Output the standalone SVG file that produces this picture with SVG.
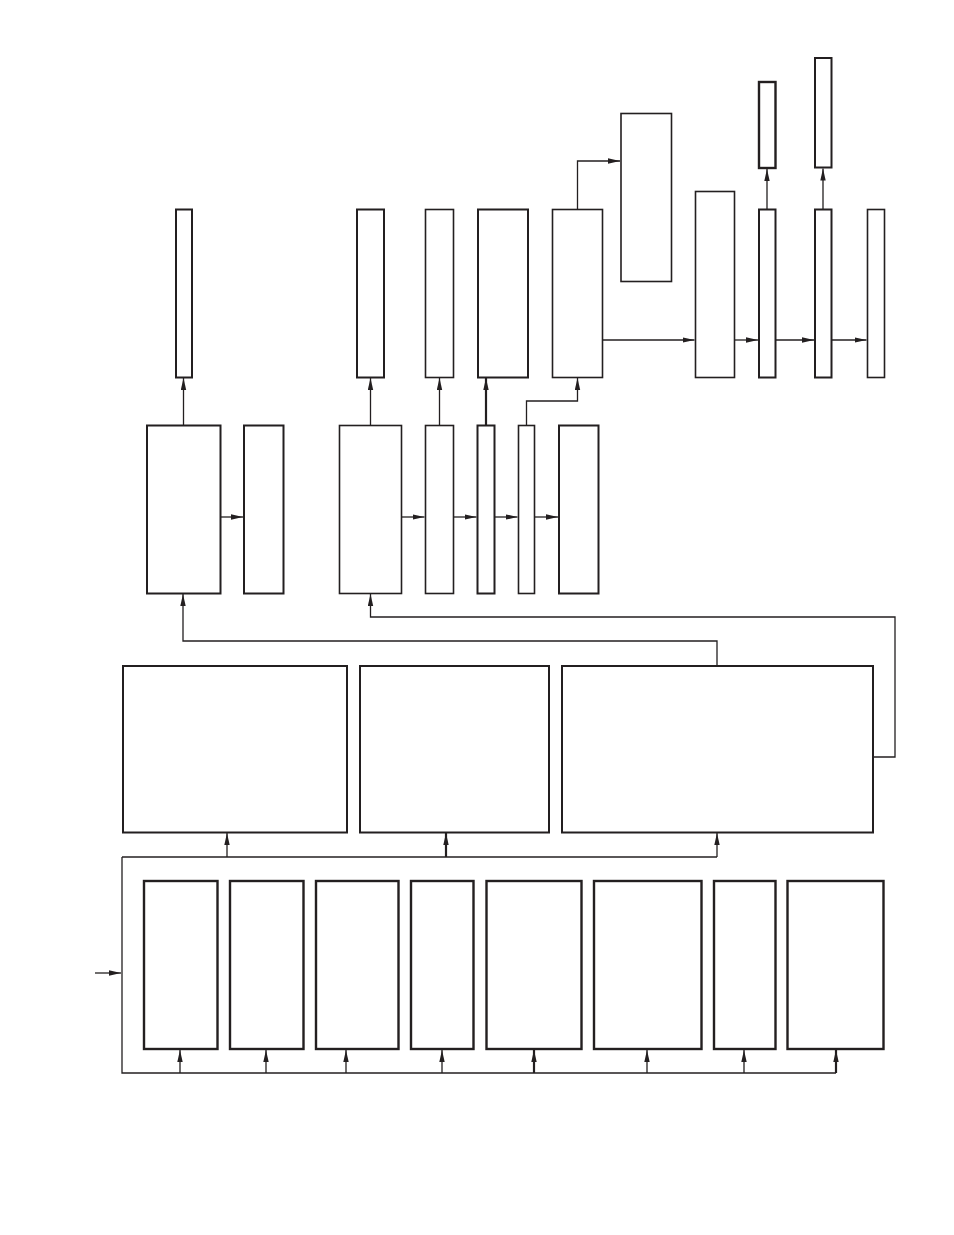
<svg xmlns="http://www.w3.org/2000/svg" width="954" height="1235" viewBox="0 0 954 1235">
<style>
.b{fill:#fff;stroke:#231f20;stroke-width:2}
.bt{fill:#fff;stroke:#231f20;stroke-width:1.6}
.bk{fill:#fff;stroke:#231f20;stroke-width:2.4}
.c{fill:none;stroke:#231f20;stroke-width:1.3}
.ca{fill:none;stroke:#231f20;stroke-width:1.3;marker-end:url(#ah)}
.cat{fill:none;stroke:#231f20;stroke-width:2.2;marker-end:url(#ah)}
</style>
<defs>
<marker id="ah" markerUnits="userSpaceOnUse" markerWidth="13" markerHeight="6" refX="12" refY="3" orient="auto">
<path d="M0,0.3 L12,3 L0,5.7 z" fill="#231f20"/>
</marker>
</defs>
<rect width="954" height="1235" fill="#fff"/>
<g id="connectors">
<path class="ca" d="M95,973 H121"/>
<path class="c" d="M122,857 V1073 H836"/>
<path class="c" d="M122,857 H717"/>
<path class="ca" d="M180,1073 V1050"/>
<path class="ca" d="M266,1073 V1050"/>
<path class="ca" d="M346,1073 V1050"/>
<path class="ca" d="M442,1073 V1050"/>
<path class="cat" d="M534,1073 V1050"/>
<path class="ca" d="M647,1073 V1050"/>
<path class="ca" d="M744,1073 V1050"/>
<path class="cat" d="M836,1073 V1050"/>
<path class="ca" d="M227,857 V833"/>
<path class="cat" d="M446,857 V833"/>
<path class="ca" d="M717,857 V833"/>
<path class="ca" d="M717,666 V641 H183 V594"/>
<path class="ca" d="M873,757 H895 V617 H370.5 V594"/>
<path class="ca" d="M220,517 H243"/>
<path class="ca" d="M402,517 H424.5"/>
<path class="ca" d="M454,517 H476.5"/>
<path class="ca" d="M494.5,517 H517.5"/>
<path class="ca" d="M535,517 H558"/>
<path class="ca" d="M183.5,425 V378"/>
<path class="ca" d="M370.5,425 V378"/>
<path class="ca" d="M439.5,425 V378"/>
<path class="cat" d="M486,425 V378"/>
<path class="ca" d="M526.5,425 V401 H577.5 V378"/>
<path class="ca" d="M577.5,209 V161 H620"/>
<path class="ca" d="M602,340 H694.5"/>
<path class="ca" d="M734,340 H758"/>
<path class="ca" d="M775,340 H814"/>
<path class="ca" d="M831,340 H866.5"/>
<path class="ca" d="M767,209 V169"/>
<path class="ca" d="M823,209 V168.5"/>
</g>
<g id="n1"><rect class="bk" x="144" y="881" width="73.5" height="168"/></g>
<g id="n2"><rect class="bk" x="230" y="881" width="73.5" height="168"/></g>
<g id="n3"><rect class="bk" x="316" y="881" width="82.5" height="168"/></g>
<g id="n4"><rect class="bk" x="411" y="881" width="62.5" height="168"/></g>
<g id="n5"><rect class="bk" x="486.5" y="881" width="95" height="168"/></g>
<g id="n6"><rect class="bk" x="594" y="881" width="107.5" height="168"/></g>
<g id="n7"><rect class="bk" x="714" y="881" width="61.5" height="168"/></g>
<g id="n8"><rect class="bk" x="787.5" y="881" width="96" height="168"/></g>
<g id="m1"><rect class="b" x="123" y="666" width="224" height="166.5"/></g>
<g id="m2"><rect class="b" x="360" y="666" width="189" height="166.5"/></g>
<g id="m3"><rect class="b" x="562" y="666" width="311" height="166.5"/></g>
<g id="d"><rect class="b" x="147" y="425.5" width="73.5" height="168"/></g>
<g id="e"><rect class="b" x="244" y="425.5" width="39.5" height="168"/></g>
<g id="f"><rect class="bt" x="339.5" y="425.5" width="62" height="168"/></g>
<g id="g"><rect class="bt" x="425.5" y="425.5" width="28" height="168"/></g>
<g id="h"><rect class="b" x="477.5" y="425.5" width="17" height="168"/></g>
<g id="i"><rect class="bt" x="518.5" y="425.5" width="16" height="168"/></g>
<g id="j"><rect class="b" x="559" y="425.5" width="39.5" height="168"/></g>
<g id="k"><rect class="b" x="176" y="209.5" width="16" height="168"/></g>
<g id="l"><rect class="b" x="357" y="209.5" width="27" height="168"/></g>
<g id="m"><rect class="bt" x="425.5" y="209.5" width="28" height="168"/></g>
<g id="n"><rect class="b" x="478" y="209.5" width="50" height="168"/></g>
<g id="o"><rect class="bt" x="552.5" y="209.5" width="50" height="168"/></g>
<g id="p"><rect class="bt" x="621" y="113.5" width="50.5" height="168"/></g>
<g id="q"><rect class="bt" x="695.5" y="191.5" width="39" height="186"/></g>
<g id="r"><rect class="b" x="759" y="209.5" width="16.5" height="168"/></g>
<g id="s"><rect class="b" x="815" y="209.5" width="16.5" height="168"/></g>
<g id="t"><rect class="bt" x="867.5" y="209.5" width="17" height="168"/></g>
<g id="u"><rect class="bk" x="759" y="82" width="16.5" height="86"/></g>
<g id="v"><rect class="b" x="815" y="58" width="16.5" height="109.5"/></g>
</svg>
